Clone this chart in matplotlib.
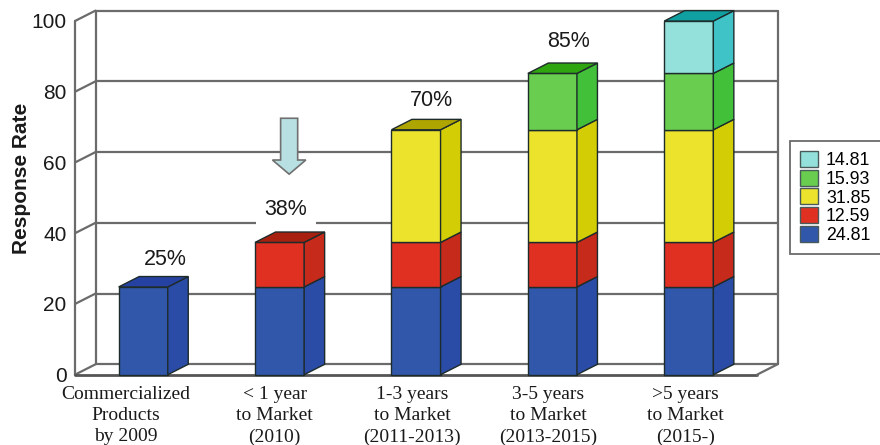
import matplotlib
matplotlib.use("Agg")
import matplotlib.pyplot as plt
from matplotlib.patches import Polygon, Patch, FancyArrow
from matplotlib.transforms import ScaledTranslation

categories = ["Commercialized\nProducts\nby 2009", "< 1 year\nto Market\n(2010)",
              "1-3 years\nto Market\n(2011-2013)", "3-5 years\nto Market\n(2013-2015)",
              ">5 years\nto Market\n(2015-)"]
percent_labels = ["25%", "38%", "70%", "85%", ""]
segment_values = [24.81, 12.59, 31.85, 15.93, 14.81]
segments_per_bar = [1, 2, 3, 4, 5]
y_ticks = [0, 20, 40, 60, 80, 100]

front_cols = ["#3157AB", "#E03022", "#ECE32C", "#69CE50", "#93E1DA"]
side_cols = ["#2A4CA6", "#C62A1A", "#D3CD06", "#42C03A", "#3FC3C6"]
top_cols = ["#2542A2", "#A8200F", "#AFA500", "#2FA610", "#10A0A2"]
edge = "#1E2B2B"
wall = "#6B6B6B"

plt.rcParams["font.family"] = ["Liberation Sans", "DejaVu Sans"]
W, H = 880, 445
fig = plt.figure(figsize=(W / 100, H / 100), dpi=100, facecolor="white")
ax = fig.add_axes([75 / W, 1 - 374.7 / H, 682 / W, 353.7 / H])
ax.set_xlim(-0.5, 4.5)
ax.set_ylim(0, 100)
for s in ax.spines.values():
    s.set_visible(False)
ax.patch.set_visible(False)

DX, DY = 20.5 / 136.4, 10.4 / 3.537   # 3-D depth offset in data units
BW = 0.36
XL, XR = -0.5, 4.5
lw_wall = 1.6

def line(xs, ys, color=wall, lw=lw_wall, z=1):
    ax.plot(xs, ys, color=color, lw=lw, zorder=z, clip_on=False, solid_capstyle="round")

for v in y_ticks:
    line([XL, XL + DX], [v, v + DY])
    line([XL + DX, XR + DX], [v + DY, v + DY])
line([XL, XL], [0, 100])
line([XL + DX, XL + DX], [DY, 100 + DY])
line([XR + DX, XR + DX], [DY, 100 + DY])
line([XL, XR], [0, 0], color="#555555", lw=2)
line([XR, XR + DX], [0, DY])

# per-label pixel offsets from the bar's back-top centre
pct_offsets = [(12, 16.6), (-4, 23), (5, 18.5), (6, 22), (0, 0)]
for i, n in enumerate(segments_per_bar):
    x0 = i - BW / 2
    x1 = i + BW / 2
    base = 0
    for k in range(n):
        top = base + segment_values[k]
        ax.add_patch(Polygon([(x0, base), (x1, base), (x1, top), (x0, top)], closed=True,
                             fc=front_cols[k], ec=edge, lw=1, zorder=3, clip_on=False))
        ax.add_patch(Polygon([(x1, base), (x1 + DX, base + DY), (x1 + DX, top + DY), (x1, top)], closed=True,
                             fc=side_cols[k], ec=edge, lw=1, zorder=3, clip_on=False))
        base = top
    ax.add_patch(Polygon([(x0, base), (x1, base), (x1 + DX, base + DY), (x0 + DX, base + DY)], closed=True,
                         fc=top_cols[n - 1], ec=edge, lw=1, zorder=3, clip_on=False))
    if percent_labels[i]:
        ox, oy = pct_offsets[i]
        ax.annotate(percent_labels[i], (i + DX / 2, base + DY), xytext=(ox * 0.72, oy * 0.72),
                    textcoords="offset points", ha="center", va="center", fontsize=15.5,
                    color="#1a1a1a", zorder=2,
                    bbox=dict(fc="white", ec="none", pad=6) if i == 1 else None)

# Callout arrow above the 2010 bar
ax.add_patch(FancyArrow(1 + 0.07, 72.5, 0, -15.8, width=0.125, head_width=0.245, head_length=4.0,
                        length_includes_head=True, fc="#B8E0E3", ec="#707070", lw=1.2, zorder=4))

ax.set_yticks(y_ticks)
ax.tick_params(axis="y", length=0, pad=6, labelsize=15, labelcolor="#1a1a1a")
ax.set_xticks(range(len(categories)))
ax.set_xticklabels(categories, family=["Liberation Serif"], fontsize=14, linespacing=1.33, color="#1a1a1a")
ax.tick_params(axis="x", length=0, pad=8)
label_dx = [-17, -5, -4, -4, -3]
for lab, d in zip(ax.get_xticklabels(), label_dx):
    lab.set_transform(lab.get_transform() + ScaledTranslation(d / 100, 0, fig.dpi_scale_trans))

ax.set_ylabel("Response Rate", fontsize=15, fontweight="bold", color="#1a1a1a")
ax.yaxis.set_label_coords((31 - 75) / 682, (374.7 - 178) / 353.7)

handles = [Patch(fc=front_cols[k], ec="#4a5a5a", lw=1) for k in reversed(range(5))]
labels = [f"{segment_values[k]:.2f}" for k in reversed(range(5))]
leg = fig.legend(handles, labels, loc="upper left", bbox_to_anchor=(790 / W, 1 - 255 / H, 92 / W, 114 / H),
                 mode="expand", borderaxespad=0, fancybox=False, edgecolor="#6B6B6B", framealpha=1,
                 fontsize=12.8, labelspacing=0.03, handlelength=1.0, handleheight=1.0, handletextpad=0.45,
                 borderpad=0.58)
leg.get_frame().set_linewidth(1.3)

fig.savefig("out.png", dpi=100, facecolor="white")
